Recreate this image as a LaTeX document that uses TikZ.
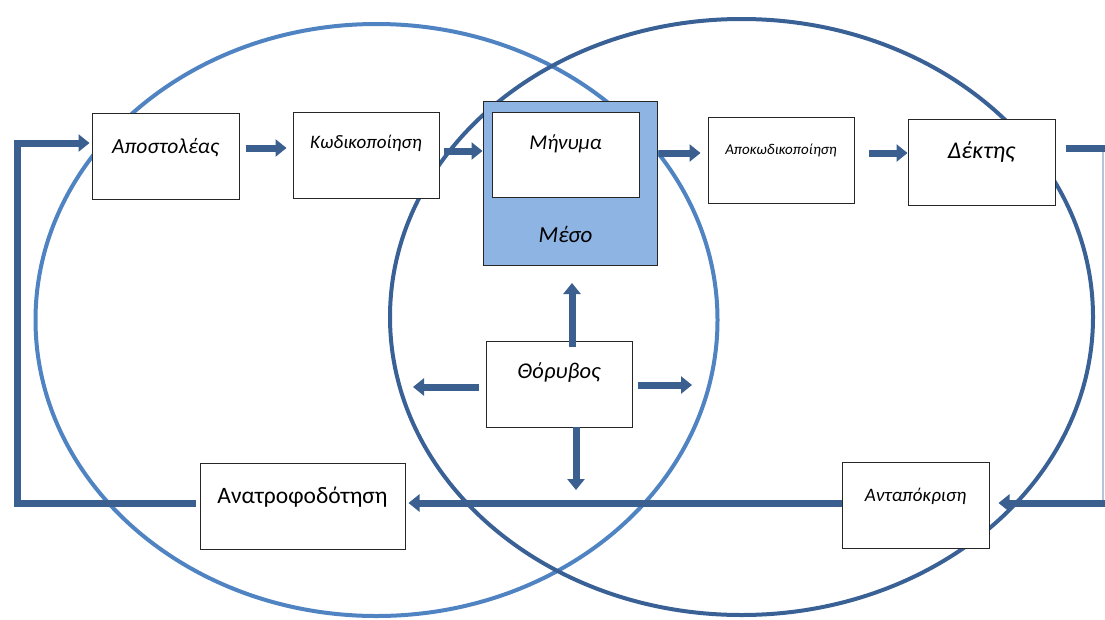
\documentclass[tikz,border=0pt]{standalone}
\usepackage{fontspec}
\setmainfont{Carlito}
\usetikzlibrary{arrows.meta,calc}
\definecolor{arrblue}{HTML}{3B5F8F}
\definecolor{lightell}{HTML}{4F83C2}
\definecolor{darkell}{HTML}{3A6196}
\definecolor{mesofill}{HTML}{8EB4E3}
\definecolor{thinline}{HTML}{B4C4DA}
\tikzset{
  box/.style={draw=black!85,line width=1pt,fill=white,inner sep=0pt},
  lbl/.style={anchor=base,inner sep=0pt,font=\itshape},
  arr/.style={draw=arrblue,line width=7pt,-{Triangle[length=11pt,width=17pt]}},
  bar/.style={draw=arrblue,line width=7pt},
}
\begin{document}
\begin{tikzpicture}[x=1pt,y=-1pt]
\useasboundingbox (0,0) rectangle (1105,619);
% ellipses
\draw[lightell,line width=4pt] (376.5,320) ellipse [x radius=341, y radius=296];
\draw[darkell,line width=4pt] (741.5,317) ellipse [x radius=351.5, y radius=298];
% boxes
\node[box,minimum width=147pt,minimum height=86pt] (apos) at (165.5,156) {};
\node[box,minimum width=146pt,minimum height=86pt] (kod) at (366,155) {};
\node[box,fill=mesofill,minimum width=174pt,minimum height=164pt] (meso) at (570,183) {};
\node[box,minimum width=147pt,minimum height=85pt] (min) at (565.5,154.5) {};
\node[box,minimum width=146pt,minimum height=86pt] (apok) at (781,160) {};
\node[box,minimum width=147pt,minimum height=86pt] (dekt) at (981.5,162) {};
\node[box,minimum width=146pt,minimum height=86pt] (thor) at (559,384) {};
\node[box,minimum width=205pt,minimum height=86pt] (anatr) at (302.5,506) {};
\node[box,minimum width=147pt,minimum height=86pt] (antap) at (915.5,505) {};
% labels
\node[lbl,font=\itshape\fontsize{21.5}{24}\selectfont] (tapos) at (165.5,153) {Αποστολέας};
\node[lbl,font=\itshape\fontsize{19}{22}\selectfont] (tkod) at (366,148) {Κωδικοποίηση};
\node[lbl,font=\itshape\fontsize{21}{24}\selectfont] (tmin) at (565.5,149) {Μήνυμα};
\node[lbl,font=\itshape\fontsize{23}{26}\selectfont] (tmeso) at (565.5,242) {Μέσο};
\node[lbl,font=\itshape\fontsize{15}{17}\selectfont] (tapok) at (781,154) {Αποκωδικοποίηση};
\node[lbl,font=\itshape\fontsize{24}{27}\selectfont] (tdekt) at (981.5,158) {Δέκτης};
\node[lbl,font=\itshape\fontsize{22.5}{25}\selectfont] (tthor) at (559,378) {Θόρυβος};
\node[lbl,font=\upshape\fontsize{23.5}{26}\selectfont] (tanatr) at (302.5,503) {Ανατροφοδότηση};
\node[lbl,font=\itshape\fontsize{19}{22}\selectfont] (tantap) at (915.5,501) {Ανταπόκριση};
% coordinates for loops
\coordinate (ltop) at (17,143);
\coordinate (lbot) at (17,503);
\coordinate (rtop) at (1105,148);
\coordinate (rbot) at (1105,503);
\coordinate (rtopthin) at (1103,148);
\coordinate (rbotthin) at (1103,503);
% main flow arrows
\draw[arr] ($(apos.east |- 0,148)+(6,0)$) -- ($(kod.west |- 0,148)+(-6,0)$);
\draw[arr] ($(kod.east |- 0,151)+(4,0)$) -- (meso.west |- 0,151);
\draw[arr] ($(meso.east |- 0,153)+(1,0)$) -- ($(apok.west |- 0,153)+(-7,0)$);
\draw[arr] ($(apok.east |- 0,153)+(14,0)$) -- (dekt.west |- 0,153);
% right loop
\draw[thinline,line width=1.2pt] (rtopthin) -- (rbotthin);
\draw[bar] ($(dekt.east |- rtop)+(10,0)$) -- (rtop);
\draw[arr] (rbot) -- ($(antap.east |- rbot)+(9,0)$);
% feedback
\draw[arr] (antap.west |- 0,503) -- ($(anatr.east |- 0,503)+(3,0)$);
\draw[arr,line join=miter] ($(anatr.west |- lbot)+(-4,0)$) -- (lbot) -- (ltop) -- ($(apos.west |- ltop)+(-2,0)$);
% noise arrows
\draw[arr] ($(thor.north)+(13,6)$) -- (572,283);
\draw[arr] ($(thor.west |- 0,387)+(-7,0)$) -- (413,387);
\draw[arr] ($(thor.east |- 0,385)+(5,0)$) -- (692,385);
\draw[arr] ($(thor.south)+(17,-1)$) -- (576,490);
\end{tikzpicture}
\end{document}
